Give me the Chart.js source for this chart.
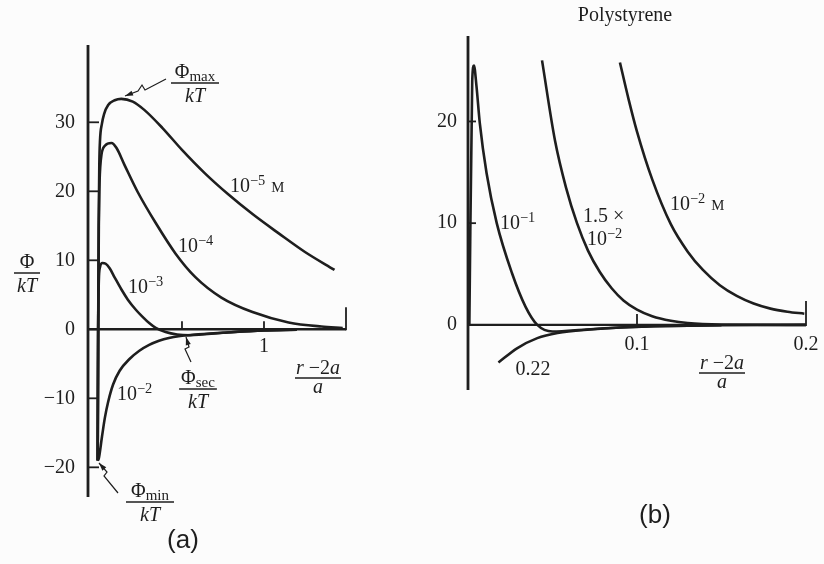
<!DOCTYPE html>
<html>
<head>
<meta charset="utf-8">
<script src="https://cdn.jsdelivr.net/npm/chart.js@4.4.1/dist/chart.umd.min.js"></script>
<style>
  html, body { margin: 0; padding: 0; background: #fcfcfc; }
  #wrap { position: relative; width: 824px; height: 564px; overflow: hidden; }
  canvas { position: absolute; top: 0; }
  #panel-a { left: 0; }
  #panel-b { left: 420px; }
</style>
</head>
<body>
<div id="wrap">
  <canvas id="panel-a" width="420" height="564"></canvas>
  <canvas id="panel-b" width="404" height="564"></canvas>
</div>
<script>
(function () {
  "use strict";

  // (a) potential energy curves, one per electrolyte concentration (M)
  var A_X_1E5 = [-0.014, -0.011, -0.008, -0.004, 0.0, 0.012, 0.025, 0.05, 0.09, 0.13, 0.2, 0.27, 0.38, 0.5, 0.64, 0.78, 0.93, 1.09, 1.25, 1.43];
  var A_Y_1E5 = [-19, 0, 15, 24, 27.3, 29.8, 31.2, 32.5, 33.2, 33.4, 33.0, 31.8, 29.2, 26.0, 22.6, 19.6, 16.7, 13.9, 11.2, 8.6];

  var A_X_1E4 = [-0.014, -0.011, -0.007, -0.004, 0.005, 0.03, 0.07, 0.1, 0.15, 0.23, 0.34, 0.46, 0.58, 0.74, 0.93, 1.15, 1.35, 1.48];
  var A_Y_1E4 = [-19, 0, 15, 20, 24.5, 26.6, 27.0, 26.3, 23.8, 19.9, 15.4, 11.0, 7.6, 4.6, 2.5, 1.0, 0.4, 0.2];

  var A_X_1E3 = [-0.014, -0.011, -0.007, 0.0, 0.015, 0.035, 0.06, 0.09, 0.13, 0.17, 0.22, 0.26, 0.3, 0.34, 0.4, 0.47, 0.55, 0.75, 1.0, 1.2];
  var A_Y_1E3 = [-19, 0, 7, 9.0, 9.6, 9.5, 8.8, 7.5, 5.8, 4.3, 2.8, 1.8, 0.9, 0.2, -0.4, -0.75, -0.85, -0.5, -0.15, -0.05];

  var A_X_1E2 = [-0.014, -0.008, 0.012, 0.03, 0.05, 0.08, 0.12, 0.18, 0.24, 0.3, 0.36, 0.42, 0.49, 0.6, 0.8, 1.0, 1.2];
  var A_Y_1E2 = [-19, -18.8, -15.6, -12.8, -10.5, -8.0, -6.0, -4.3, -3.1, -2.25, -1.65, -1.25, -0.98, -0.72, -0.42, -0.18, -0.05];

  var A_Y_TICKS = [-20, -10, 0, 10, 20, 30];
  var A_X_TICKS = [0.5, 1];
  var A_X_END = 1.5;
  var A_X_LABELS = [1];

  // (b) polystyrene, higher concentrations
  var B_X_1E1 = [0.0008, 0.0025, 0.0035, 0.005, 0.007, 0.011, 0.017, 0.026, 0.034, 0.041, 0.05, 0.07, 0.09, 0.12, 0.15, 0.2];
  var B_Y_1E1 = [0, 24, 25.5, 23.5, 19.8, 14.9, 10, 5.1, 1.8, 0, -0.65, -0.45, -0.25, -0.1, -0.03, 0];

  var B_X_022 = [0.018, 0.029, 0.041, 0.053, 0.072, 0.09, 0.12, 0.15];
  var B_Y_022 = [-3.7, -2.3, -1.3, -0.8, -0.45, -0.25, -0.1, -0.03];

  var B_X_15E3 = [0.0438, 0.0515, 0.058, 0.0645, 0.071, 0.078, 0.085, 0.092, 0.1, 0.109, 0.12, 0.13, 0.15, 0.2];
  var B_Y_15E3 = [26, 18.1, 13.5, 10, 7.3, 5.2, 3.6, 2.4, 1.5, 0.85, 0.4, 0.18, 0.04, 0];

  var B_X_1E2 = [0.0899, 0.095, 0.1, 0.109, 0.12, 0.13, 0.139, 0.149, 0.159, 0.169, 0.179, 0.189, 0.199];
  var B_Y_1E2 = [25.8, 22.2, 19.0, 14.3, 9.9, 7.2, 5.4, 3.9, 2.85, 2.1, 1.6, 1.3, 1.1];

  var B_Y_TICKS = [0, 10, 20];
  var B_Y_TICK_MARKS = [10, 20];
  var B_X_TICKS = [0.1];
  var B_X_END = 0.2;
  var B_X_LABELS = [0.1, 0.2];

  var INK = "#1e1e1e";
  var SERIF = '"Liberation Serif", "DejaVu Serif", serif';
  var SANS = '"Liberation Sans", "DejaVu Sans", sans-serif';

  function points(xs, ys) {
    return xs.map(function (x, i) {
      return { x: x, y: ys[i] };
    });
  }

  function curve(name, xs, ys) {
    return {
      label: name,
      data: points(xs, ys),
      borderColor: INK,
      borderWidth: 2.6,
      pointRadius: 0,
      fill: false,
      cubicInterpolationMode: "monotone",
    };
  }

  function setFont(ctx, size, style, family) {
    ctx.font = (style ? style + " " : "") + size + "px " + (family || SERIF);
  }

  function text(ctx, s, x, y, size, align, style, family) {
    setFont(ctx, size, style, family);
    ctx.textAlign = align || "center";
    ctx.textBaseline = "middle";
    ctx.fillText(s, x, y);
  }

  // "10" with a raised exponent, optional small-caps unit after it
  function power(ctx, base, exp, x, y, size, unit) {
    ctx.textAlign = "left";
    ctx.textBaseline = "middle";
    setFont(ctx, size);
    ctx.fillText(base, x, y);
    var w = ctx.measureText(base).width;
    setFont(ctx, size * 0.72);
    ctx.fillText(exp, x + w, y - size * 0.3);
    var w2 = ctx.measureText(exp).width;
    if (unit) {
      setFont(ctx, size * 0.74);
      ctx.fillText(unit, x + w + w2 + size * 0.3, y + 1);
    }
  }

  // Φ (with optional subscript) over kT
  function phiOverKT(ctx, sub, cx, lineY, minWidth) {
    ctx.textBaseline = "alphabetic";
    ctx.textAlign = "left";
    setFont(ctx, 20);
    var wPhi = ctx.measureText("\u03A6").width;
    setFont(ctx, 15);
    var wSub = sub ? ctx.measureText(sub).width : 0;
    var total = wPhi + wSub;
    var x0 = cx - total / 2;
    setFont(ctx, 20);
    ctx.fillText("\u03A6", x0, lineY - 5);
    if (sub) {
      setFont(ctx, 15);
      ctx.fillText(sub, x0 + wPhi, lineY - 2);
    }
    var half = Math.max(total, minWidth || 0) / 2 + 2;
    ctx.lineWidth = 1.5;
    ctx.beginPath();
    ctx.moveTo(cx - half, lineY);
    ctx.lineTo(cx + half, lineY);
    ctx.stroke();
    setFont(ctx, 20, "italic");
    ctx.textAlign = "center";
    ctx.fillText("kT", cx, lineY + 19);
  }

  // (r − 2a) / a
  function separationTitle(ctx, cx, lineY) {
    var parts = [["r", "italic"], [" \u22122", ""], ["a", "italic"]];
    var widths = parts.map(function (p) {
      setFont(ctx, 20, p[1]);
      return ctx.measureText(p[0]).width;
    });
    var total = widths.reduce(function (a, b) { return a + b; }, 0);
    var x = cx - total / 2;
    ctx.textBaseline = "alphabetic";
    ctx.textAlign = "left";
    parts.forEach(function (p, i) {
      setFont(ctx, 20, p[1]);
      ctx.fillText(p[0], x, lineY - 4);
      x += widths[i];
    });
    ctx.lineWidth = 1.5;
    ctx.beginPath();
    ctx.moveTo(cx - total / 2 - 1, lineY);
    ctx.lineTo(cx + total / 2 + 1, lineY);
    ctx.stroke();
    setFont(ctx, 20, "italic");
    ctx.textAlign = "center";
    ctx.fillText("a", cx, lineY + 15);
  }

  // kinked leader line with an arrowhead at the first point
  function leader(ctx, pts) {
    ctx.lineWidth = 1.2;
    ctx.beginPath();
    ctx.moveTo(pts[0][0], pts[0][1]);
    for (var i = 1; i < pts.length; i++) ctx.lineTo(pts[i][0], pts[i][1]);
    ctx.stroke();
    var dx = pts[0][0] - pts[1][0];
    var dy = pts[0][1] - pts[1][1];
    var len = Math.sqrt(dx * dx + dy * dy);
    var ux = dx / len, uy = dy / len;
    ctx.beginPath();
    ctx.moveTo(pts[0][0], pts[0][1]);
    ctx.lineTo(pts[0][0] - ux * 8 - uy * 2.6, pts[0][1] - uy * 8 + ux * 2.6);
    ctx.lineTo(pts[0][0] - ux * 8 + uy * 2.6, pts[0][1] - uy * 8 - ux * 2.6);
    ctx.closePath();
    ctx.fill();
  }

  function drawAxes(chart, cfg) {
    var ctx = chart.ctx;
    var area = chart.chartArea;
    var sx = chart.scales.x;
    var sy = chart.scales.y;
    var y0 = sy.getPixelForValue(0);
    ctx.save();
    ctx.strokeStyle = INK;
    ctx.fillStyle = INK;
    ctx.lineCap = "butt";

    ctx.lineWidth = 2.8;
    ctx.beginPath();
    ctx.moveTo(area.left, area.top);
    ctx.lineTo(area.left, area.bottom);
    ctx.stroke();

    ctx.lineWidth = 2.4;
    ctx.beginPath();
    ctx.moveTo(area.left, y0);
    ctx.lineTo(sx.getPixelForValue(cfg.xEnd), y0);
    ctx.stroke();

    ctx.lineWidth = 1.8;
    cfg.yTickMarks.forEach(function (v) {
      var p = sy.getPixelForValue(v);
      ctx.beginPath();
      ctx.moveTo(area.left, p);
      ctx.lineTo(area.left + cfg.yTickLen, p);
      ctx.stroke();
    });
    cfg.xTicks.forEach(function (v) {
      var p = sx.getPixelForValue(v);
      ctx.beginPath();
      ctx.moveTo(p, y0);
      ctx.lineTo(p, y0 - cfg.xTickLen);
      ctx.stroke();
    });
    var pe = sx.getPixelForValue(cfg.xEnd);
    ctx.beginPath();
    ctx.moveTo(pe, y0 + 1);
    ctx.lineTo(pe, y0 - cfg.xEndLen);
    ctx.stroke();

    cfg.yLabels.forEach(function (v) {
      var s = v < 0 ? "\u2212" + Math.abs(v) : String(v);
      text(ctx, s, area.left - cfg.yLabelGap, sy.getPixelForValue(v), 20, "right");
    });
    cfg.xLabels.forEach(function (v) {
      text(ctx, String(v), sx.getPixelForValue(v), y0 + cfg.xLabelGap, 20, "center");
    });
    ctx.restore();
  }

  var notesA = {
    id: "notesA",
    afterDraw: function (chart) {
      var ctx = chart.ctx;
      drawAxes(chart, {
        xEnd: A_X_END,
        yTickMarks: A_Y_TICKS,
        yTickLen: 11,
        xTicks: A_X_TICKS,
        xTickLen: 8,
        xEndLen: 22,
        yLabels: A_Y_TICKS,
        yLabelGap: 13,
        xLabels: A_X_LABELS,
        xLabelGap: 17,
      });
      ctx.save();
      ctx.fillStyle = INK;
      ctx.strokeStyle = INK;
      power(ctx, "10", "\u22125", 230, 187, 20, "M");
      power(ctx, "10", "\u22124", 178, 247, 20);
      power(ctx, "10", "\u22123", 128, 288, 20);
      power(ctx, "10", "\u22122", 117, 395, 20);

      phiOverKT(ctx, "", 27, 273, 22);
      phiOverKT(ctx, "max", 195, 83, 44);
      phiOverKT(ctx, "sec", 198, 389, 32);
      phiOverKT(ctx, "min", 150, 502, 44);
      leader(ctx, [[125, 96], [138, 91], [142, 85], [145, 90], [166, 79]]);
      leader(ctx, [[186, 337], [189, 347], [185, 349], [191, 362]]);
      leader(ctx, [[99, 463], [107, 472], [104, 476], [118, 493]]);

      separationTitle(ctx, 318, 378);
      text(ctx, "(a)", 183, 541, 26, "center", "", SANS);
      ctx.restore();
    },
  };

  var notesB = {
    id: "notesB",
    afterDraw: function (chart) {
      var ctx = chart.ctx;
      drawAxes(chart, {
        xEnd: B_X_END,
        yTickMarks: B_Y_TICK_MARKS,
        yTickLen: 8,
        xTicks: B_X_TICKS,
        xTickLen: 11,
        xEndLen: 24,
        yLabels: B_Y_TICKS,
        yLabelGap: 11,
        xLabels: B_X_LABELS,
        xLabelGap: 20,
      });
      ctx.save();
      ctx.fillStyle = INK;
      ctx.strokeStyle = INK;
      text(ctx, "Polystyrene", 205, 16, 20, "center");
      power(ctx, "10", "\u22121", 80, 224, 20);
      text(ctx, "1.5 \u00D7", 163, 217, 20, "left");
      power(ctx, "10", "\u22122", 167, 240, 20);
      power(ctx, "10", "\u22122", 250, 205, 20, "M");
      text(ctx, "0.22", 113, 370, 20, "center");
      separationTitle(ctx, 302, 373);
      text(ctx, "(b)", 235, 516, 26, "center", "", SANS);
      ctx.restore();
    },
  };

  function makeChart(id, datasets, xRange, yRange, padding, plugin) {
    return new Chart(document.getElementById(id), {
      type: "line",
      data: { datasets: datasets },
      options: {
        responsive: false,
        animation: false,
        devicePixelRatio: 1,
        layout: { padding: padding },
        plugins: { legend: { display: false }, tooltip: { enabled: false } },
        scales: {
          x: { type: "linear", min: xRange[0], max: xRange[1], display: false },
          y: { type: "linear", min: yRange[0], max: yRange[1], display: false },
        },
      },
      plugins: [plugin],
    });
  }

  makeChart(
    "panel-a",
    [
      curve("10^-5 M", A_X_1E5, A_Y_1E5),
      curve("10^-4", A_X_1E4, A_Y_1E4),
      curve("10^-3", A_X_1E3, A_Y_1E3),
      curve("10^-2", A_X_1E2, A_Y_1E2),
    ],
    [-0.073, 1.5],
    [-24.3, 41.2],
    { left: 88, right: 74, top: 45, bottom: 67 },
    notesA
  );

  makeChart(
    "panel-b",
    [
      curve("10^-1", B_X_1E1, B_Y_1E1),
      curve("0.22", B_X_022, B_Y_022),
      curve("1.5x10^-2", B_X_15E3, B_Y_15E3),
      curve("10^-2 M", B_X_1E2, B_Y_1E2),
    ],
    [0, 0.2],
    [-6.4, 28.4],
    { left: 48, right: 18, top: 36, bottom: 174 },
    notesB
  );
})();
</script>
</body>
</html>
